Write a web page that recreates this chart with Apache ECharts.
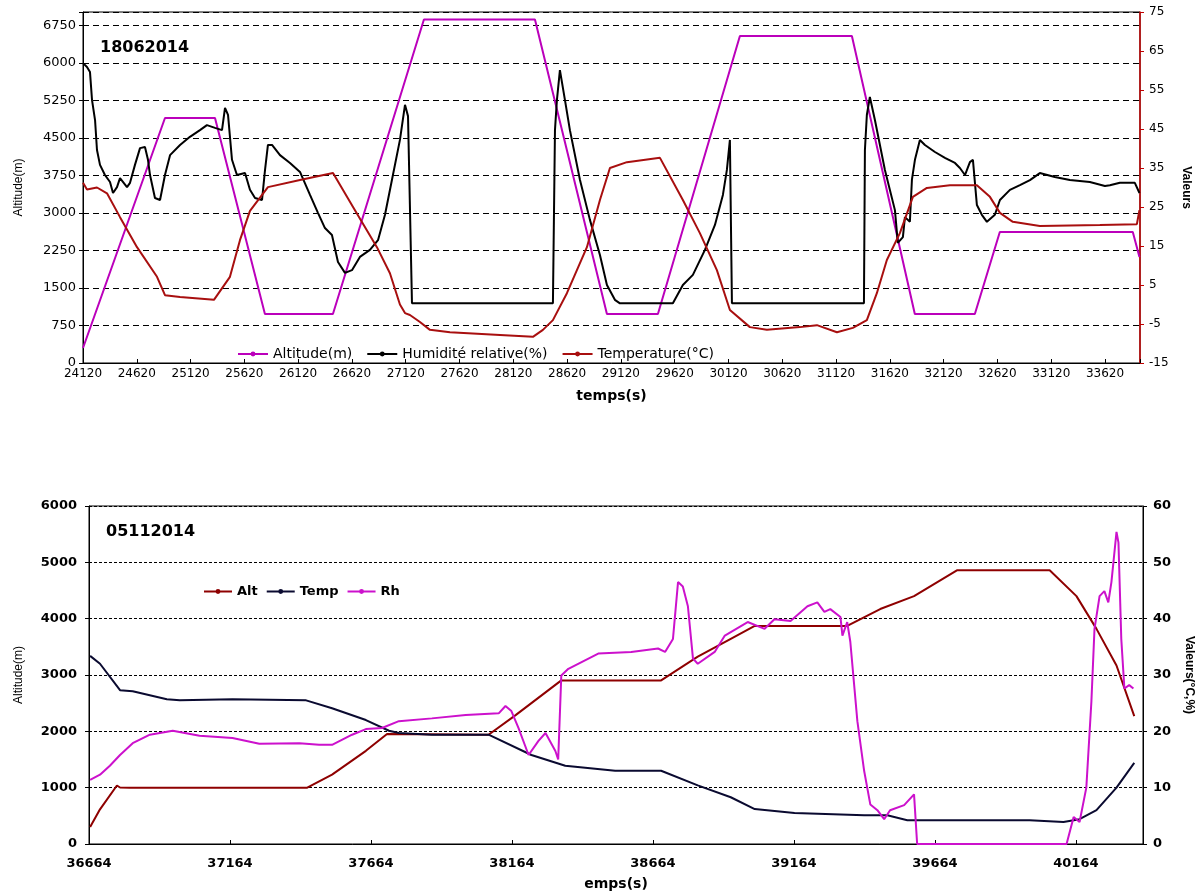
<!DOCTYPE html>
<html>
<head>
<meta charset="utf-8">
<script src="https://cdn.jsdelivr.net/npm/echarts@6/dist/echarts.min.js"></script>
<style>
  html, body { margin: 0; padding: 0; background: #fff; }
  #chart { width: 1203px; height: 892px; }
</style>
</head>
<body>
<div id="chart"></div>
<script>
// ---- Flight of 18062014 ----
const altTime1 = [24120, 24882, 25347, 25811, 26443, 27289, 28321, 28990, 29464, 30226, 31267, 31852, 32410, 32642, 33878, 33940];
const altVal1  = [300, 4900, 4900, 980, 980, 6870, 6870, 980, 980, 6540, 6540, 980, 980, 2620, 2620, 2120];

const tempTime1 = [24120, 24157, 24250, 24343, 24464, 24622, 24808, 24882, 25022, 25337, 25486, 25579, 25672, 25839, 26137, 26444, 26630, 26852, 26973, 27066, 27113, 27159, 27252, 27345, 27531, 27996, 28302, 28395, 28488, 28618, 28804, 28925, 29018, 29176, 29483, 29696, 29854, 30012, 30133, 30319, 30477, 30784, 30942, 31128, 31276, 31406, 31499, 31592, 31713, 31834, 31964, 32178, 32429, 32550, 32643, 32763, 33014, 33572, 33916, 33940];
const tempVal1  = [31.2, 29.5, 30.0, 28.5, 22.4, 14.7, 7.1, 2.4, 1.9, 1.2, 7.1, 16.5, 24.0, 30.1, 31.9, 33.7, 25.0, 14.7, 8.0, 0.0, -2.2, -2.7, -4.5, -6.5, -7.1, -7.8, -8.3, -6.5, -4.0, 2.9, 14.7, 26.8, 35.0, 36.5, 37.6, 26.8, 18.3, 8.8, -1.4, -5.8, -6.5, -5.8, -5.3, -7.1, -6.0, -4.0, 2.9, 11.4, 18.3, 27.6, 29.9, 30.6, 30.6, 27.6, 23.5, 21.2, 20.1, 20.4, 20.6, 24.2];

const rhTime1 = [24120, 24157, 24185, 24204, 24232, 24250, 24278, 24324, 24371, 24399, 24436, 24464, 24529, 24557, 24603, 24650, 24696, 24724, 24743, 24789, 24836, 24882, 24929, 25022, 25114, 25207, 25272, 25347, 25412, 25440, 25468, 25505, 25551, 25626, 25672, 25719, 25784, 25812, 25839, 25877, 25951, 26044, 26137, 26230, 26304, 26369, 26434, 26490, 26555, 26620, 26694, 26787, 26862, 26927, 26992, 27066, 27113, 27141, 27178, 28488, 28507, 28525, 28553, 28600, 28646, 28739, 28832, 28925, 28990, 29064, 29111, 29603, 29696, 29789, 29901, 29994, 30068, 30105, 30133, 30152, 31379, 31388, 31406, 31434, 31481, 31574, 31667, 31694, 31741, 31760, 31806, 31825, 31853, 31899, 31946, 32039, 32132, 32225, 32271, 32318, 32364, 32392, 32429, 32475, 32522, 32596, 32643, 32736, 32829, 32922, 33014, 33153, 33293, 33479, 33619, 33665, 33758, 33897, 33940];
const rhVal1  = [61.9, 60.9, 59.6, 52.4, 47.3, 39.6, 35.8, 33.2, 31.4, 28.6, 30.1, 32.4, 30.1, 31.2, 35.8, 40.1, 40.4, 37.1, 33.2, 27.3, 26.8, 33.2, 38.3, 40.9, 43.0, 44.7, 46.0, 45.3, 44.7, 50.4, 48.6, 37.1, 33.2, 33.7, 29.4, 27.3, 26.8, 34.5, 40.9, 40.9, 38.3, 36.3, 34.0, 28.1, 23.5, 19.6, 17.8, 10.9, 8.1, 8.8, 12.2, 14.0, 16.5, 23.0, 32.0, 42.2, 51.2, 48.3, 0.3, 0.3, 44.7, 52.4, 60.1, 52.4, 44.7, 32.0, 21.7, 12.7, 5.0, 1.2, 0.3, 0.3, 5.0, 7.6, 14.0, 20.4, 28.1, 34.5, 42.2, 0.3, 0.3, 39.6, 48.6, 53.2, 47.3, 34.5, 24.2, 15.8, 17.3, 22.4, 21.2, 32.0, 37.1, 42.2, 40.9, 39.1, 37.6, 36.3, 35.0, 33.2, 36.5, 37.1, 25.5, 23.0, 21.2, 23.0, 26.8, 29.4, 30.6, 31.9, 33.7, 32.7, 31.9, 31.4, 30.4, 30.6, 31.2, 31.2, 28.6];

// ---- Flight of 05112014 ----
const altTime2 = [36668, 36703, 36763, 36774, 36809, 37438, 37526, 37646, 37721, 38081, 38177, 38339, 38693, 38823, 38940, 39025, 39353, 39470, 39590, 39742, 40071, 40166, 40237, 40308, 40371];
const altVal2  = [300, 616, 1038, 1003, 1000, 1000, 1232, 1654, 1954, 1940, 2288, 2904, 2904, 3326, 3643, 3872, 3872, 4171, 4400, 4858, 4858, 4400, 3819, 3168, 2270];

const tempTime2 = [36668, 36703, 36774, 36819, 36940, 36986, 37173, 37434, 37526, 37646, 37728, 37763, 37880, 38081, 38233, 38353, 38530, 38693, 38823, 38940, 39025, 39166, 39413, 39495, 39566, 39767, 40000, 40120, 40177, 40237, 40308, 40371];
const tempVal2  = [33.4, 32.0, 27.3, 27.1, 25.7, 25.5, 25.7, 25.5, 24.1, 22.0, 20.1, 19.7, 19.4, 19.4, 15.8, 13.9, 13.0, 13.0, 10.4, 8.3, 6.2, 5.5, 5.1, 5.1, 4.2, 4.2, 4.2, 3.9, 4.4, 6.0, 10.0, 14.4];

const rhTime2 = [36668, 36703, 36738, 36774, 36819, 36880, 36961, 37056, 37173, 37268, 37410, 37480, 37526, 37597, 37646, 37703, 37763, 37880, 38000, 38117, 38141, 38162, 38187, 38223, 38258, 38283, 38318, 38328, 38339, 38364, 38470, 38587, 38682, 38707, 38735, 38753, 38770, 38788, 38806, 38823, 38883, 38919, 39000, 39060, 39095, 39152, 39212, 39247, 39272, 39293, 39329, 39336, 39353, 39364, 39389, 39413, 39435, 39460, 39484, 39505, 39555, 39590, 39601, 40131, 40156, 40177, 40201, 40219, 40230, 40248, 40265, 40279, 40290, 40308, 40315, 40325, 40336, 40353, 40368];
const rhVal2  = [11.4, 12.3, 13.9, 15.8, 17.9, 19.4, 20.1, 19.2, 18.8, 17.8, 17.9, 17.6, 17.6, 19.4, 20.4, 20.6, 21.8, 22.3, 22.9, 23.2, 24.5, 23.6, 20.6, 15.8, 18.3, 19.7, 16.5, 15.0, 29.9, 31.1, 33.8, 34.1, 34.7, 34.1, 36.4, 46.5, 45.7, 42.2, 32.9, 32.0, 34.1, 37.0, 39.4, 38.2, 39.9, 39.6, 42.2, 42.9, 41.2, 41.7, 40.3, 37.0, 39.4, 35.9, 21.8, 13.0, 7.0, 6.0, 4.4, 6.0, 6.9, 8.8, 0, 0, 4.8, 3.9, 10.0, 25.3, 38.2, 44.0, 44.9, 42.9, 46.5, 55.4, 53.5, 36.4, 27.6, 28.2, 27.6];

const zip = (ts, vs) => ts.map((t, i) => [t, vs[i]]);

const FONT = 'DejaVu Sans';
const NAME_FONT = 'Liberation Sans';
const MAGENTA = '#bb00bb';
const DARKRED = '#a80f0f';
const BORDEAUX = '#8e0000';
const NAVY = '#0a0a30';
const PINK = '#cc11cc';

// show a label only on the regular tick steps, counted from the axis start
function valueAxisLabel(step, base, size, bold) {
  return {
    fontFamily: FONT, fontSize: size, color: '#000', fontWeight: bold ? 'bold' : 'normal',
    formatter: v => (Math.abs(((v - base) % step + step) % step) < 1e-6 ? String(v) : '')
  };
}

const chart = echarts.init(document.getElementById('chart'), null, { renderer: 'canvas' });

chart.setOption({
  animation: false,
  backgroundColor: '#fff',
  textStyle: { fontFamily: FONT },
  title: [
    { text: '18062014', left: 95, top: 35, textStyle: { fontFamily: FONT, fontSize: 16, fontWeight: 'bold', color: '#000' } },
    { text: '05112014', left: 101, top: 519, textStyle: { fontFamily: FONT, fontSize: 16, fontWeight: 'bold', color: '#000' } }
  ],
  legend: [
    {
      data: ['Altitude(m)', 'Humidité relative(%)', 'Temperature(°C)'],
      left: 232, top: 342, itemWidth: 30, itemHeight: 6, itemGap: 14,
      textStyle: { fontFamily: FONT, fontSize: 14, color: '#000' }
    },
    {
      data: ['Alt', 'Temp', 'Rh'],
      left: 198, top: 580, itemWidth: 28, itemHeight: 6, itemGap: 8,
      textStyle: { fontFamily: FONT, fontSize: 13, color: '#000', fontWeight: 'bold' }
    }
  ],
  grid: [
    { left: 83, right: 63, top: 12, height: 351, show: true, borderColor: '#000', borderWidth: 1, containLabel: false },
    { left: 89, right: 56, top: 506, height: 341, show: true, borderColor: '#000', borderWidth: 1, containLabel: false }
  ],
  xAxis: [
    {
      gridIndex: 0, type: 'value', min: 24120, max: 33945, interval: 500,
      name: 'temps(s)', nameLocation: 'middle', nameGap: 26,
      nameTextStyle: { fontFamily: FONT, fontSize: 14, fontWeight: 'bold', color: '#000' },
      axisLine: { onZero: false, lineStyle: { color: '#000' } },
      axisTick: { inside: true, length: 4, lineStyle: { color: '#000' } },
      axisLabel: Object.assign(valueAxisLabel(500, 24120, 12, false), { margin: 5 }),
      splitLine: { show: false }
    },
    {
      gridIndex: 1, type: 'value', min: 36664, max: 40402, interval: 500,
      name: 'emps(s)', nameLocation: 'middle', nameGap: 33,
      nameTextStyle: { fontFamily: FONT, fontSize: 14, fontWeight: 'bold', color: '#000' },
      axisLine: { onZero: false, lineStyle: { color: '#000' } },
      axisTick: { inside: true, length: 4, lineStyle: { color: '#000' } },
      axisLabel: Object.assign(valueAxisLabel(500, 36664, 13, true), { margin: 13 }),
      splitLine: { show: false }
    }
  ],
  yAxis: [
    {
      gridIndex: 0, type: 'value', min: 0, max: 7020, interval: 750, position: 'left',
      name: 'Altitude(m)', nameLocation: 'middle', nameGap: 58, nameRotate: 90,
      nameTextStyle: { fontFamily: NAME_FONT, fontSize: 12, color: '#000' },
      axisLine: { show: true, lineStyle: { color: '#000' } },
      axisTick: { show: true, length: 4, lineStyle: { color: '#000' } },
      axisLabel: Object.assign(valueAxisLabel(750, 0, 13, false), { margin: 7 }),
      splitLine: { show: true, lineStyle: { color: '#000', type: [6, 4], width: 1 } }
    },
    {
      gridIndex: 0, type: 'value', min: -15, max: 75, interval: 10, position: 'right',
      name: 'Valeurs', nameLocation: 'middle', nameGap: 40, nameRotate: -90,
      nameTextStyle: { fontFamily: NAME_FONT, fontSize: 12, fontWeight: 'bold', color: '#000' },
      axisLine: { show: true, lineStyle: { color: '#c00000', width: 1.5 } },
      axisTick: { show: true, length: 4, lineStyle: { color: '#c00000' } },
      axisLabel: Object.assign(valueAxisLabel(10, -15, 12, false), { margin: 9 }),
      splitLine: { show: false }
    },
    {
      gridIndex: 1, type: 'value', min: 0, max: 6000, interval: 1000, position: 'left',
      name: 'Altitude(m)', nameLocation: 'middle', nameGap: 64, nameRotate: 90,
      nameTextStyle: { fontFamily: NAME_FONT, fontSize: 12, color: '#000' },
      axisLine: { show: true, lineStyle: { color: '#000' } },
      axisTick: { show: true, length: 4, lineStyle: { color: '#000' } },
      axisLabel: Object.assign(valueAxisLabel(1000, 0, 13, true), { margin: 12 }),
      splitLine: { show: true, lineStyle: { color: '#000', type: [3, 2], width: 1 } }
    },
    {
      gridIndex: 1, type: 'value', min: 0, max: 60, interval: 10, position: 'right',
      name: 'Valeurs(°C,%)', nameLocation: 'middle', nameGap: 40, nameRotate: -90,
      nameTextStyle: { fontFamily: NAME_FONT, fontSize: 12, fontWeight: 'bold', color: '#000' },
      axisLine: { show: true, lineStyle: { color: '#000' } },
      axisTick: { show: true, length: 4, lineStyle: { color: '#000' } },
      axisLabel: Object.assign(valueAxisLabel(10, 0, 13, true), { margin: 10 }),
      splitLine: { show: false }
    }
  ],
  series: [
    {
      name: 'Altitude(m)', type: 'line', xAxisIndex: 0, yAxisIndex: 0,
      data: zip(altTime1, altVal1), symbol: 'circle', symbolSize: 3, showSymbol: false,
      lineStyle: { color: MAGENTA, width: 2 }, itemStyle: { color: MAGENTA }, z: 3
    },
    {
      name: 'Humidité relative(%)', type: 'line', xAxisIndex: 0, yAxisIndex: 1,
      data: zip(rhTime1, rhVal1), symbol: 'circle', symbolSize: 3, showSymbol: false,
      lineStyle: { color: '#000', width: 2 }, itemStyle: { color: '#000' }, z: 4
    },
    {
      name: 'Temperature(°C)', type: 'line', xAxisIndex: 0, yAxisIndex: 1,
      data: zip(tempTime1, tempVal1), symbol: 'circle', symbolSize: 3, showSymbol: false,
      lineStyle: { color: DARKRED, width: 2 }, itemStyle: { color: DARKRED }, z: 5
    },
    {
      name: 'Alt', type: 'line', xAxisIndex: 1, yAxisIndex: 2,
      data: zip(altTime2, altVal2), symbol: 'circle', symbolSize: 3, showSymbol: false,
      lineStyle: { color: BORDEAUX, width: 2 }, itemStyle: { color: BORDEAUX }, z: 3
    },
    {
      name: 'Temp', type: 'line', xAxisIndex: 1, yAxisIndex: 3,
      data: zip(tempTime2, tempVal2), symbol: 'circle', symbolSize: 3, showSymbol: false,
      lineStyle: { color: NAVY, width: 2 }, itemStyle: { color: NAVY }, z: 4
    },
    {
      name: 'Rh', type: 'line', xAxisIndex: 1, yAxisIndex: 3,
      data: zip(rhTime2, rhVal2), symbol: 'circle', symbolSize: 3, showSymbol: false,
      lineStyle: { color: PINK, width: 2 }, itemStyle: { color: PINK }, z: 5
    }
  ]
});
</script>
</body>
</html>
